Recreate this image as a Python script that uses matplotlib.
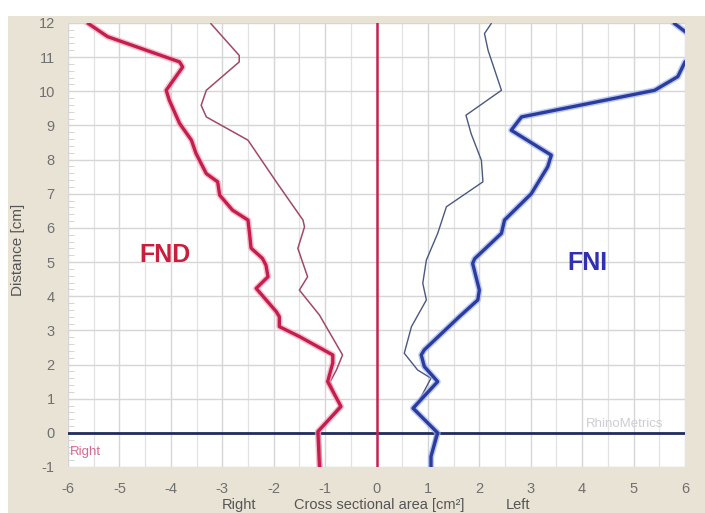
import matplotlib
matplotlib.use("Agg")
import matplotlib.pyplot as plt
from matplotlib.patches import Rectangle
import numpy as np

plt.rcParams['font.family'] = ['Liberation Sans', 'DejaVu Sans']
plt.rcParams['axes.unicode_minus'] = False

# FND (right side) - thick curve: cross sectional area vs distance
fnd_thick_area = [-5.6, -5.23, -3.83, -3.77, -4.09, -4.03, -3.83, -3.6, -3.51, -3.31, -3.09,
                  -3.05, -2.8, -2.5, -2.47, -2.44, -2.22, -2.15, -2.11, -2.34, -1.95, -1.89,
                  -1.89, -1.5, -0.85, -0.85, -0.95, -0.69, -1.14, -1.11]
fnd_thick_dist = [11.98, 11.6, 10.86, 10.71, 10.03, 9.74, 9.06, 8.57, 8.18, 7.59, 7.35,
                  6.96, 6.52, 6.23, 5.85, 5.41, 5.11, 4.91, 4.57, 4.23, 3.55, 3.4,
                  3.11, 2.82, 2.28, 2.05, 1.5, 0.77, 0.04, -0.98]

# FND - thin curve
fnd_thin_area = [-3.22, -2.67, -2.67, -3.31, -3.41, -3.31, -2.5, -1.95, -1.43, -1.40, -1.53,
                 -1.34, -1.5, -1.11, -0.66, -0.78, -0.9, -0.72, -1.1, -1.07]
fnd_thin_dist = [11.98, 11.05, 10.86, 10.03, 9.59, 9.25, 8.57, 7.35, 6.23, 6.03, 5.4,
                 4.57, 4.18, 3.45, 2.28, 1.84, 1.5, 0.8, 0.05, -0.98]

# FNI (left side) - thick curve
fni_thick_area = [5.8, 6.0, 6.4, 6.0, 5.86, 5.41, 2.82, 2.62, 3.4, 3.33, 3.01, 2.49, 2.43,
                  1.91, 1.87, 2.0, 1.97, 1.61, 0.93, 0.87, 0.93, 1.19, 0.71, 1.19, 1.06, 1.06]
fni_thick_dist = [11.98, 11.75, 11.3, 10.86, 10.43, 10.03, 9.25, 8.86, 8.13, 7.79, 7.0, 6.23, 5.84,
                  5.1, 4.96, 4.18, 3.89, 3.4, 2.43, 2.28, 1.94, 1.5, 0.72, 0.0, -0.69, -0.98]

# FNI - thin curve
fni_thin_area = [2.23, 2.1, 2.17, 2.43, 1.74, 1.84, 2.04, 2.07, 1.36, 1.19, 0.97, 0.9, 0.97,
                 0.68, 0.54, 0.8, 1.06, 0.75, 1.15, 1.05, 1.05]
fni_thin_dist = [11.98, 11.69, 11.2, 10.03, 9.3, 8.76, 7.98, 7.35, 6.62, 5.84, 5.06, 4.38, 3.89,
                 3.11, 2.33, 1.84, 1.6, 0.72, 0.02, -0.7, -0.98]

x_ticks = [-6, -5, -4, -3, -2, -1, 0, 1, 2, 3, 4, 5, 6]
y_ticks = [-1, 0, 1, 2, 3, 4, 5, 6, 7, 8, 9, 10, 11, 12]

W, H = 705, 513
fig = plt.figure(figsize=(W / 100, H / 100), dpi=100)
fig.patch.set_facecolor('white')

# beige panel behind the chart
fig.patches.append(Rectangle((8 / W, 0), 1 - 8 / W, (H - 16) / H, transform=fig.transFigure,
                             facecolor='#e9e3d5', edgecolor='none', zorder=-10))

ax = fig.add_axes([68 / W, 46 / H, (685 - 68) / W, (467 - 23) / H])
ax.set_facecolor('white')
ax.set_xlim(-6, 6)
ax.set_ylim(-1, 12)

ax.set_xticks(x_ticks)
ax.set_yticks(y_ticks)
ax.set_xticks(np.arange(-6, 6.01, 0.5), minor=True)
ax.set_yticks(np.arange(-1, 12.01, 0.2), minor=True)
ax.grid(which='major', color='#d6d6d6', linewidth=1.0)
ax.grid(which='minor', axis='x', color='#e2e2e2', linewidth=0.9)
for s in ax.spines.values():
    s.set_visible(False)
ax.tick_params(axis='x', which='both', length=0, pad=11, labelsize=10.5, labelcolor='#707070')
ax.tick_params(axis='y', which='major', length=0, pad=9.5, labelsize=10.5, labelcolor='#707070')
ax.tick_params(axis='y', which='minor', direction='in', length=4, color='#cfcfcf', width=0.6)

# reference axes
ax.axhline(0, color='#222b5e', linewidth=2.0, zorder=3)
ax.axvline(0, color='#c42452', linewidth=1.8, zorder=3)

# thin curves
ax.plot(fnd_thin_area, fnd_thin_dist, color='#a04868', linewidth=1.1, zorder=4)
ax.plot(fni_thin_area, fni_thin_dist, color='#4a5880', linewidth=1.0, zorder=4)

# thick curves with a soft glow
ax.plot(fnd_thick_area, fnd_thick_dist, color='#f7a6bf', linewidth=4.5, alpha=0.7,
        solid_joinstyle='round', zorder=5)
ax.plot(fnd_thick_area, fnd_thick_dist, color='#c41f4c', linewidth=2.4,
        solid_joinstyle='round', zorder=6)
ax.plot(fni_thick_area, fni_thick_dist, color='#9db2f5', linewidth=4.5, alpha=0.7,
        solid_joinstyle='round', zorder=5)
ax.plot(fni_thick_area, fni_thick_dist, color='#2c3c9c', linewidth=2.4,
        solid_joinstyle='round', zorder=6)

# labels inside the plot
ax.text(-4.12, 5.2, 'FND', color='#c81f3e', fontsize=18, fontweight='bold',
        ha='center', va='center', zorder=7)
ax.text(4.1, 4.97, 'FNI', color='#3131b0', fontsize=18, fontweight='bold',
        ha='center', va='center', zorder=7)
ax.text(-5.97, -0.55, 'Right', color='#d46a8e', fontsize=9.5, ha='left', va='center', zorder=7)
ax.text(4.82, 0.26, 'RhinoMetrics', color='#cdcdd4', fontsize=9.5, ha='center', va='center',
        zorder=2)

# axis titles
fig.text(18 / W, (H - 250) / H, 'Distance [cm]', rotation=90, ha='center', va='center',
         fontsize=11, color='#555555')
base_y = (H - 509) / H
fig.text(239 / W, base_y, 'Right', ha='center', va='baseline', fontsize=10.5, color='#555555')
fig.text(379 / W, base_y, 'Cross sectional area [cm²]', ha='center', va='baseline',
         fontsize=10.5, color='#555555')
fig.text(518 / W, base_y, 'Left', ha='center', va='baseline', fontsize=10.5, color='#555555')

fig.savefig('out.png', dpi=100, facecolor=fig.get_facecolor())
